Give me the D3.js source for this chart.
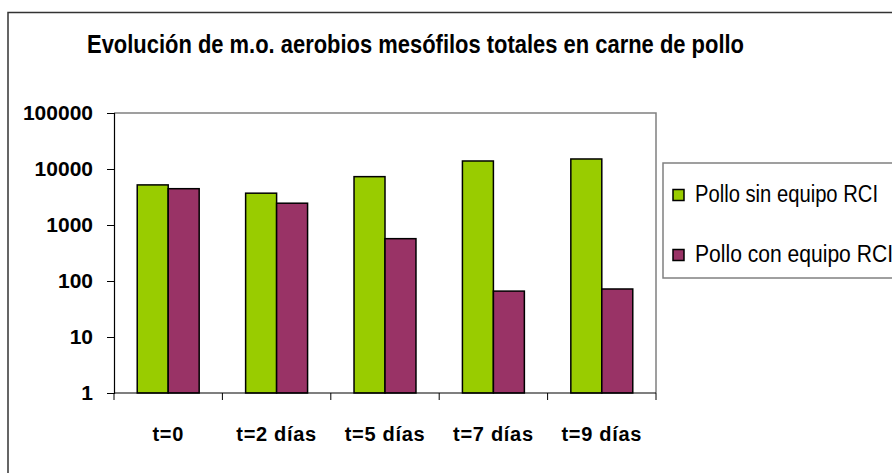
<!DOCTYPE html>
<html lang="es">
<head>
<meta charset="UTF-8">
<title>Evolución de m.o. aerobios mesófilos</title>
<script src="https://cdn.jsdelivr.net/npm/d3@7"></script>
<style>
  body { margin: 0; background: #fff; }
  text { font-family: "Liberation Sans", Arial, sans-serif; fill: #000; }
</style>
</head>
<body>
<script>
// datos
const categories = ["t=0", "t=2 días", "t=5 días", "t=7 días", "t=9 días"];
const seriesNames = ["Pollo sin equipo RCI", "Pollo con equipo RCI"];
const sinEquipo = [5200, 3700, 7300, 13900, 15100];
const conEquipo = [4450, 2450, 570, 66, 72];
const yTicks = [1, 10, 100, 1000, 10000, 100000];
const colors = ["#99CC00", "#993366"];

const width = 892, height = 473;
const plot = { left: 114, right: 656, top: 113, bottom: 393 };

const svg = d3.select("body").append("svg")
    .attr("width", width)
    .attr("height", height);

// marco exterior
svg.append("rect")
    .attr("x", 8).attr("y", 12.5)
    .attr("width", 900).attr("height", 480)
    .attr("fill", "none")
    .attr("stroke", "#333").attr("stroke-width", 1.5);

svg.append("text")
    .attr("x", 87).attr("y", 53)
    .attr("font-size", 25).attr("font-weight", "bold")
    .attr("textLength", 657).attr("lengthAdjust", "spacingAndGlyphs")
    .text("Evolución de m.o. aerobios mesófilos totales en carne de pollo");

const x = d3.scaleBand().domain(categories).range([plot.left, plot.right]);
const y = d3.scaleLog().domain([1, 100000]).range([plot.bottom, plot.top]);

// borde gris del área de trazado (arriba y derecha)
svg.append("path")
    .attr("d", `M${plot.left},${plot.top}H${plot.right}V${plot.bottom}`)
    .attr("fill", "none").attr("stroke", "#808080").attr("stroke-width", 1.5);

// barras: ancho de separación 150%
const bw = x.bandwidth() / 3.5;
const rows = categories.map((c, i) => ({ c, vals: [sinEquipo[i], conEquipo[i]] }));

svg.append("g").selectAll("g")
    .data(rows)
    .join("g")
    .selectAll("rect")
    .data(d => d.vals.map((v, j) => ({ c: d.c, v, j })))
    .join("rect")
    .attr("x", d => x(d.c) + 0.75 * bw + d.j * bw)
    .attr("y", d => y(d.v))
    .attr("width", bw)
    .attr("height", d => y(1) - y(d.v))
    .attr("fill", d => colors[d.j])
    .attr("stroke", "#000").attr("stroke-width", 1.5);

// eje Y
const yAxis = svg.append("g")
    .attr("transform", `translate(${plot.left},0)`)
    .call(d3.axisLeft(y).tickValues(yTicks).tickFormat(d3.format("d")).tickSize(7).tickPadding(14));
yAxis.selectAll("text").attr("font-size", 21).attr("font-weight", "bold")
    .style("font-family", "'Liberation Sans', Arial, sans-serif");
yAxis.select(".domain").attr("stroke-width", 1.2);

// eje X
const xAxis = svg.append("g")
    .attr("transform", `translate(0,${plot.bottom})`);
xAxis.append("line")
    .attr("x1", plot.left).attr("x2", plot.right)
    .attr("stroke", "#000").attr("stroke-width", 1.2);
xAxis.selectAll(".tick")
    .data([...categories.map(c => x(c)), plot.right])
    .join("line")
    .attr("x1", d => d).attr("x2", d => d)
    .attr("y1", 0).attr("y2", 7)
    .attr("stroke", "#000");
xAxis.selectAll(".lbl")
    .data(categories)
    .join("text")
    .attr("x", d => x(d) + x.bandwidth() / 2)
    .attr("y", 48)
    .attr("text-anchor", "middle")
    .attr("font-size", 20).attr("font-weight", "bold")
    .attr("letter-spacing", 0.7)
    .text(d => d);

// leyenda
const legend = svg.append("g");
legend.append("rect")
    .attr("x", 663).attr("y", 163)
    .attr("width", 260).attr("height", 115)
    .attr("fill", "#fff").attr("stroke", "#808080").attr("stroke-width", 1.5);
seriesNames.forEach((name, i) => {
    const cy = 195 + i * 60;
    legend.append("rect")
        .attr("x", 673).attr("y", cy - 5.5)
        .attr("width", 11).attr("height", 11)
        .attr("fill", colors[i]).attr("stroke", "#000").attr("stroke-width", 1.5);
    legend.append("text")
        .attr("x", 695).attr("y", cy + 7)
        .attr("font-size", 23)
        .attr("textLength", i === 0 ? 183 : 198).attr("lengthAdjust", "spacingAndGlyphs")
        .text(name);
});
</script>
</body>
</html>
